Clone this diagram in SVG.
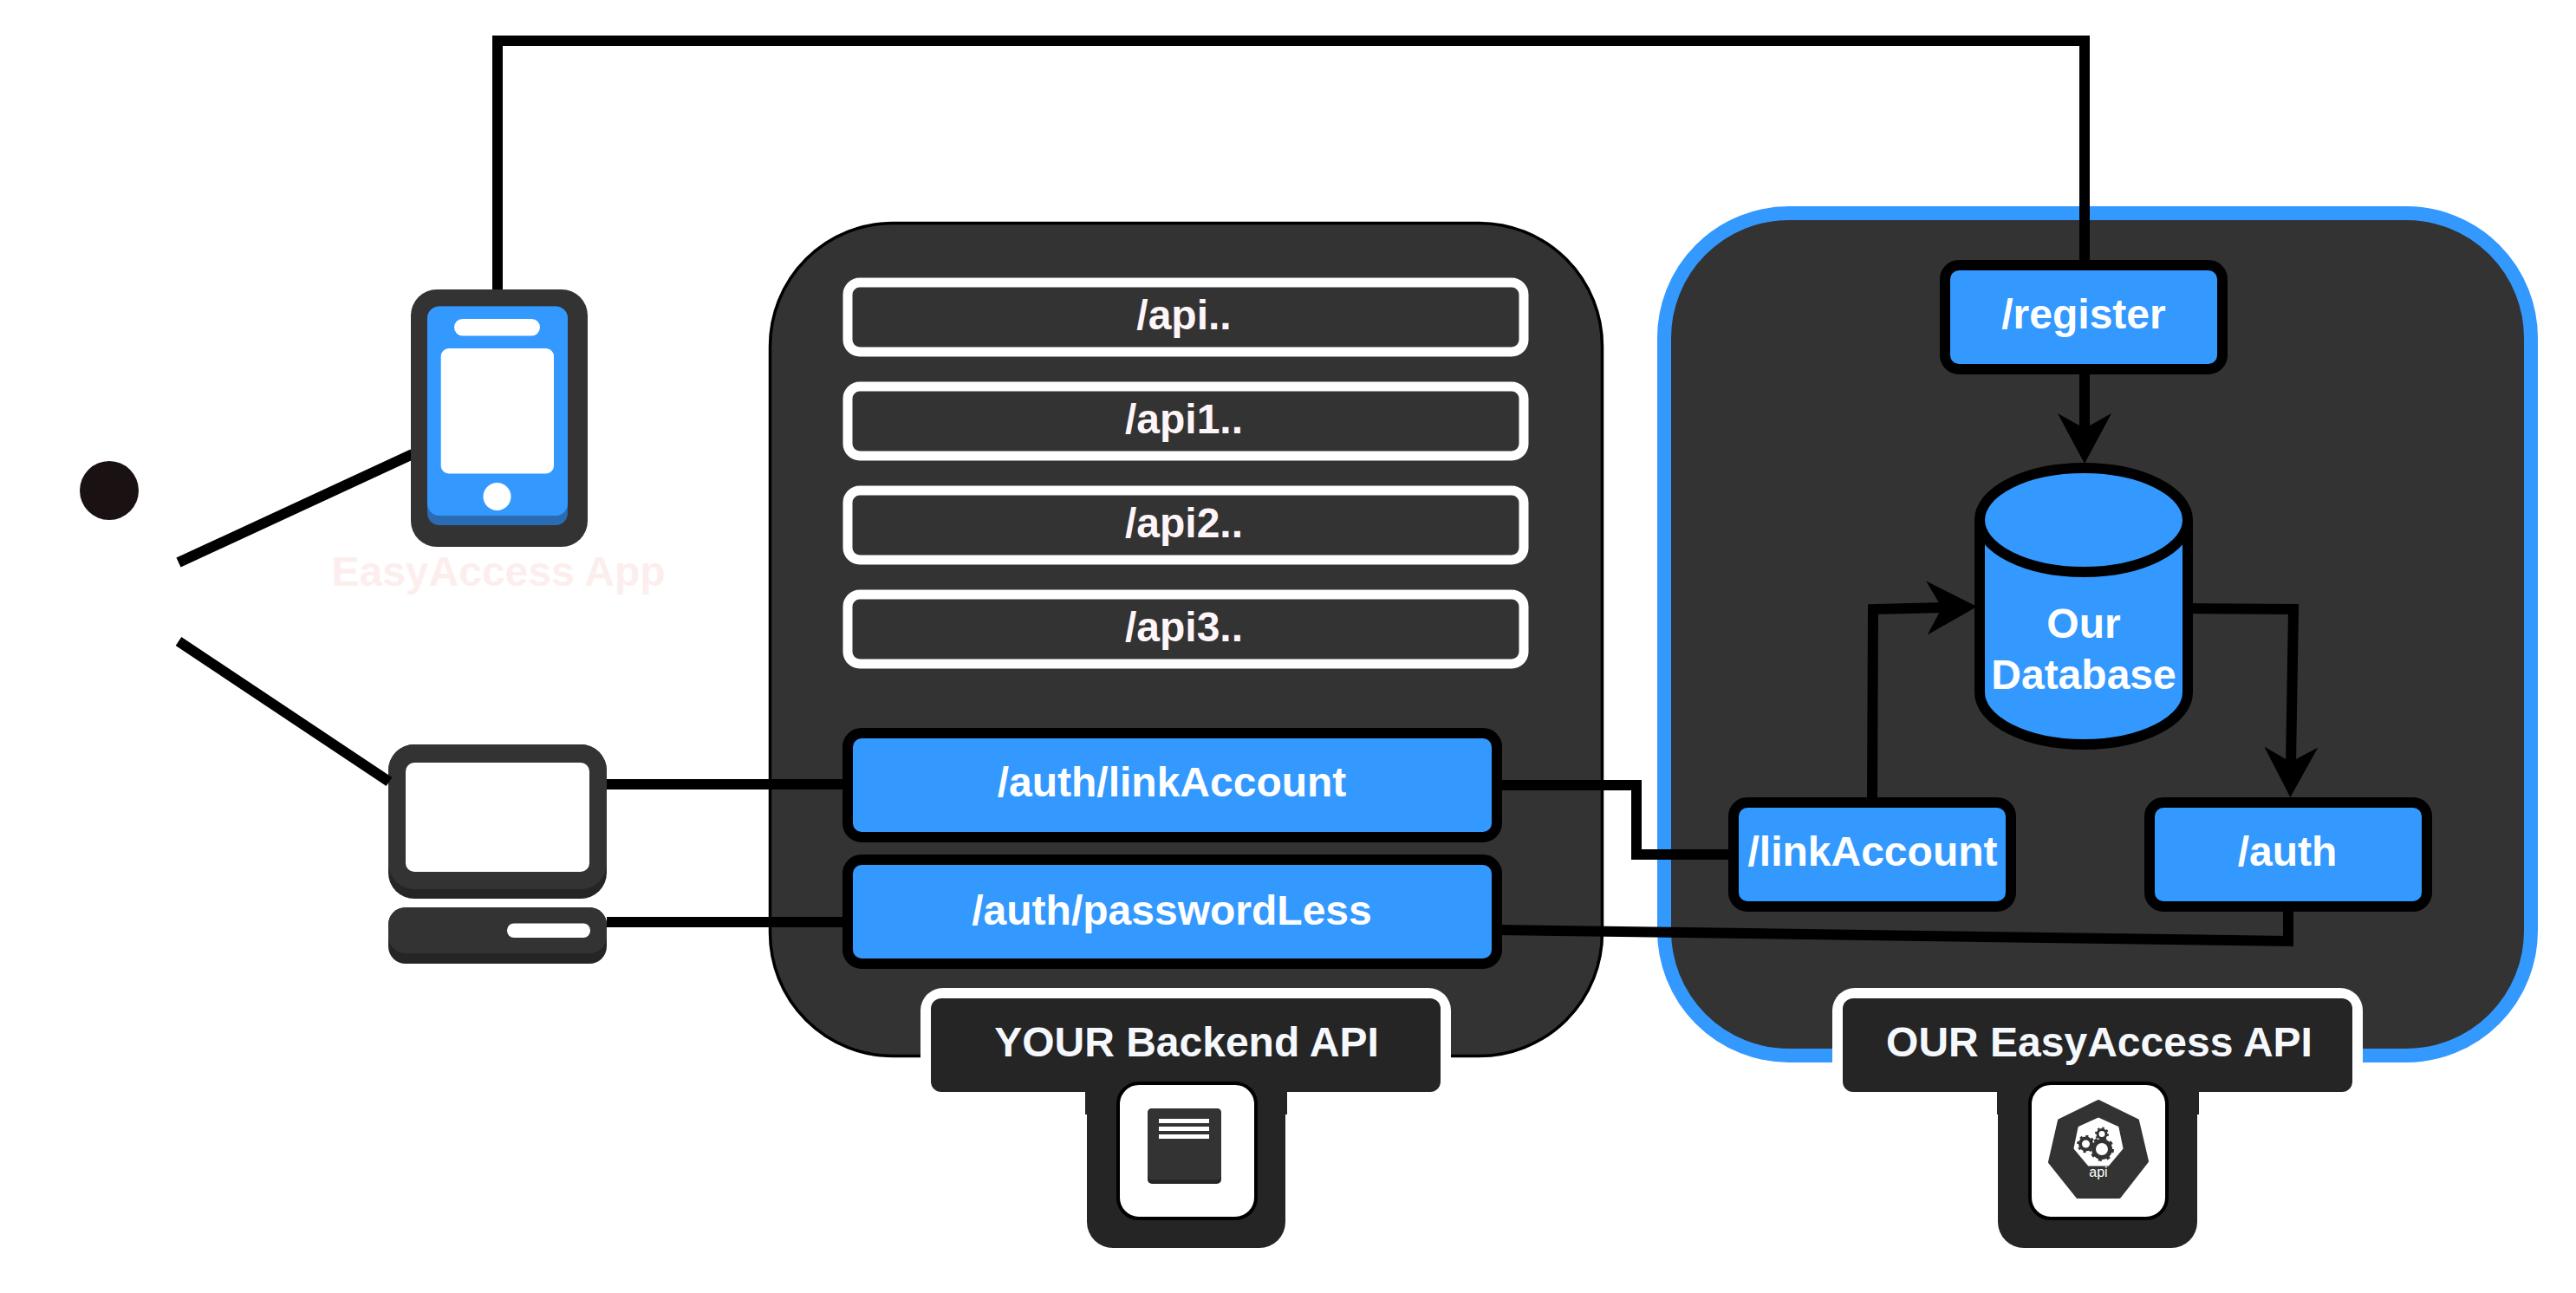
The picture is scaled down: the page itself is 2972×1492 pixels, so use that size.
<svg xmlns="http://www.w3.org/2000/svg" width="2972" height="1492" viewBox="0 0 2972 1492">
<defs>
<marker id="arrow" markerUnits="userSpaceOnUse" markerWidth="60" markerHeight="64" viewBox="0 -32 60 64" refX="20" refY="0" orient="auto"><path d="M0 -31L14 -6L14 0L14 6L0 31L58 0Z" fill="#000"/></marker>
</defs>
<style>
text{font-family:"Liberation Sans",Arial,sans-serif;font-weight:700;font-size:48px;text-anchor:middle;fill:#fff}
.panel{fill:#333}
.ep{fill:#333;stroke:#fff;stroke-width:11}
.blue{fill:#3399ff;stroke:#000;stroke-width:12}
.conn{fill:none;stroke:#000;stroke-width:12;stroke-linejoin:miter}
.dark{fill:#252525}
.mid{fill:#333}
.w{fill:#fff}
.label{fill:#fff}
.well{fill:#fff;stroke:#000;stroke-width:4}
.t{fill:#f5f9fd}
.p{fill:#fdf5f8}
</style>
<rect width="2972" height="1492" fill="#fff"/>
<g id="panels">
<rect id="backend-panel" class="panel" x="888.5" y="257.5" width="960" height="961" rx="142" stroke="#000" stroke-width="3.5"/>
<rect id="easyaccess-panel" class="panel" x="1920" y="246" width="1000" height="972" rx="144" stroke="#3399ff" stroke-width="16"/>
</g>
<g id="desktop">
<rect class="dark" x="448" y="859" width="252" height="178" rx="30"/>
<rect class="mid" x="448" y="859" width="252" height="167" rx="30"/>
<rect class="w" x="468" y="880" width="212" height="126" rx="10"/>
<rect class="dark" x="448" y="1047" width="252" height="65" rx="20"/>
<rect class="mid" x="448" y="1047" width="252" height="53" rx="20"/>
<rect class="w" x="585" y="1065.500" width="96" height="16.500" rx="8"/>
</g>
<g id="connectors">
<path class="conn" d="M574 340V47H2405V310"/>
<path class="conn" d="M206 649L476 524"/>
<path class="conn" d="M206 740L449 902"/>
<path class="conn" d="M700 905H980"/>
<path class="conn" d="M700 1064H980"/>
<path class="conn" d="M1727 906H1888V986H2000"/>
<path class="conn" d="M1727 1073L2640 1086V1046"/>
<path class="conn" d="M2405 426V497" marker-end="url(#arrow)"/>
<path class="conn" d="M2160 930L2161 703L2243 701" marker-end="url(#arrow)"/>
<path class="conn" d="M2523 702L2646 703L2643 882" marker-end="url(#arrow)"/>
</g>
<g id="user"><circle cx="126" cy="566" r="34" fill="#1a1113"/></g>
<g id="phone">
<rect class="mid" x="474" y="334" width="204" height="297" rx="30"/>
<rect x="493" y="353.500" width="162" height="252.500" rx="14" fill="#2a6cb3"/>
<rect x="493" y="353.500" width="162" height="241.500" rx="14" fill="#3399ff"/>
<rect class="w" x="524" y="368" width="99" height="19.500" rx="9.700"/>
<rect class="w" x="508.700" y="402" width="130.300" height="144.500" rx="9"/>
<circle class="w" cx="573.500" cy="573" r="16"/>
<text x="575" y="676" style="fill:#fdeeee">EasyAccess App</text>
</g>
<g id="api"><rect class="ep" x="978" y="326" width="780" height="80" rx="14"/><text class="p" x="1366" y="380">/api..</text></g>
<g id="api1"><rect class="ep" x="978" y="446" width="780" height="80" rx="14"/><text class="p" x="1366" y="500">/api1..</text></g>
<g id="api2"><rect class="ep" x="978" y="566" width="780" height="80" rx="14"/><text class="p" x="1366" y="620">/api2..</text></g>
<g id="api3"><rect class="ep" x="978" y="686" width="780" height="80" rx="14"/><text class="p" x="1366" y="740">/api3..</text></g>
<g id="auth-link"><rect class="blue" x="978" y="846" width="749" height="120" rx="16"/><text x="1352" y="919">/auth/linkAccount</text></g>
<g id="auth-passwordless"><rect class="blue" x="978" y="992" width="749" height="120" rx="16"/><text x="1352" y="1067">/auth/passwordLess</text></g>
<g id="register"><rect class="blue" x="2244" y="306" width="320" height="120" rx="16"/><text x="2404" y="379">/register</text></g>
<g id="database">
<path class="blue" d="M2284 600A120 60 0 0 1 2524 600V799A120 60 0 0 1 2284 799Z"/>
<path fill="none" stroke="#000" stroke-width="12" d="M2284 600A120 60 0 0 0 2524 600"/>
<text x="2404" y="736">Our</text>
<text x="2404" y="795">Database</text>
</g>
<g id="link-account"><rect class="blue" x="2000" y="926" width="320" height="120" rx="16"/><text x="2160.500" y="999">/linkAccount</text></g>
<g id="auth"><rect class="blue" x="2480" y="926" width="320" height="120" rx="16"/><text x="2639" y="999">/auth</text></g>
<g id="your-backend">
<path class="label" d="M1062 1225V1166A26 26 0 0 1 1088 1140H1648A26 26 0 0 1 1674 1166V1225Z"/>
<rect class="dark" x="1252" y="1250" width="233" height="36"/>
<rect class="dark" x="1254" y="1250" width="229" height="190" rx="30"/>
<rect class="dark" x="1074" y="1152" width="588" height="108" rx="12"/>
<rect class="well" x="1290" y="1250" width="159" height="156" rx="24"/>
<rect class="dark" x="1324" y="1279" width="85" height="87" rx="5"/>
<rect class="mid" x="1324" y="1279" width="85" height="82.500" rx="5"/>
<rect class="w" x="1337" y="1291" width="58" height="5"/>
<rect class="w" x="1337" y="1300" width="58" height="5"/>
<rect class="w" x="1337" y="1309" width="58" height="5"/>
<text class="t" x="1369" y="1219">YOUR Backend API</text>
</g>
<g id="our-easyaccess">
<path class="label" d="M2114 1228V1166A26 26 0 0 1 2140 1140H2700A26 26 0 0 1 2726 1166V1228Z"/>
<rect class="dark" x="2304" y="1250" width="233" height="36"/>
<rect class="dark" x="2305" y="1250" width="230" height="190" rx="30"/>
<rect class="dark" x="2126" y="1152" width="588" height="108" rx="12"/>
<rect class="well" x="2342" y="1250" width="158" height="156" rx="24"/>
<polygon class="mid" stroke="#333" stroke-width="4" stroke-linejoin="round" points="2421,1271 2466,1293 2477,1340 2445,1381 2397,1381 2365,1341 2376,1293"/>
<polygon class="w" stroke="#fff" stroke-width="3" stroke-linejoin="round" points="2421,1291 2443,1301 2448,1325 2432,1344 2410,1344 2394,1325 2399,1301"/>
<circle cx="2425" cy="1326" r="9.500" fill="#fff" stroke="#333" stroke-width="5"/>
<circle cx="2425" cy="1326" r="12.500" fill="none" stroke="#333" stroke-width="3" stroke-dasharray="4 5.800"/>
<circle cx="2406.500" cy="1320" r="6.500" fill="#fff" stroke="#333" stroke-width="4"/>
<circle cx="2406.500" cy="1320" r="9" fill="none" stroke="#333" stroke-width="2.500" stroke-dasharray="3 4"/>
<circle cx="2425" cy="1308.500" r="5" fill="#fff" stroke="#333" stroke-width="3"/>
<circle cx="2425" cy="1308.500" r="7" fill="none" stroke="#333" stroke-width="2" stroke-dasharray="2.500 3"/>
<text x="2421" y="1358" style="font-size:16px;font-weight:400">api</text>
<text class="t" x="2422" y="1219">OUR EasyAccess API</text>
</g>
</svg>
